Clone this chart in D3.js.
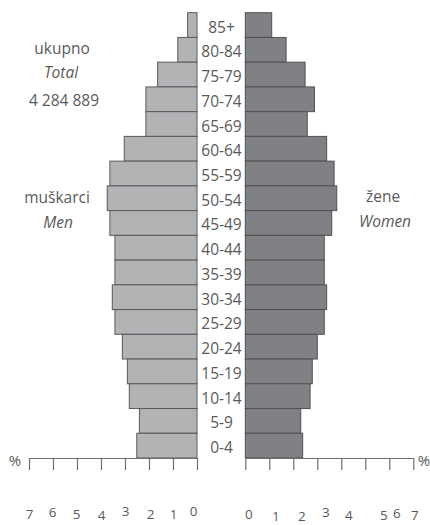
<!DOCTYPE html>
<html>
<head>
<meta charset="utf-8">
<script src="https://cdn.jsdelivr.net/npm/d3@7"></script>
<style>
  html, body { margin: 0; padding: 0; background: #fff; }
  svg { display: block; font-family: "Open Sans", sans-serif; }
</style>
</head>
<body>
<svg id="chart" width="430" height="525"></svg>
<script>
const ageGroups = ["85+","80-84","75-79","70-74","65-69","60-64","55-59","50-54","45-49","40-44","35-39","30-34","25-29","20-24","15-19","10-14","5-9","0-4"];
const menValues = [0.39,0.80,1.64,2.13,2.13,3.03,3.63,3.74,3.63,3.42,3.42,3.53,3.42,3.11,2.90,2.82,2.40,2.51];
const womenValues = [1.10,1.70,2.49,2.88,2.58,3.39,3.70,3.81,3.60,3.29,3.29,3.39,3.29,3.00,2.79,2.70,2.31,2.39];
const tickValues = [0,1,2,3,4,5,6,7];
const totalLabel = ["ukupno","Total","4 284 889"];
const menLabel = ["muškarci","Men"];
const womenLabel = ["žene","Women"];

// small hand-drawn offsets of the scanned tick labels (layout only)
const leftNudge = [[-4,-3],[0,0],[1,0],[0,-3],[0,1],[-1,0],[-1,-2],[0,0]];
const rightNudge = [[3,0],[6,1.5],[8,1.5],[8,-2],[7,1],[18,1],[7,-1],[1,1]];

const svg = d3.select("#chart");
const textColor = "#5a5a5a";

const y = d3.scaleBand().domain(ageGroups).range([12.7, 458]).padding(0);
const xL = d3.scaleLinear().domain([0,7]).range([197, 29]);
const xR = d3.scaleLinear().domain([0,7]).range([245.3, 413.3]);

const menData = ageGroups.map((a,i)=>({age:a, v:menValues[i]}));
const womenData = ageGroups.map((a,i)=>({age:a, v:womenValues[i]}));

svg.append("g").selectAll("rect").data(menData).join("rect")
  .attr("x", d => xL(d.v))
  .attr("y", d => y(d.age))
  .attr("width", d => xL(0) - xL(d.v))
  .attr("height", y.bandwidth())
  .attr("fill", "#b2b3b5")
  .attr("stroke", "#58595b")
  .attr("stroke-width", 1);

svg.append("g").selectAll("rect").data(womenData).join("rect")
  .attr("x", xR(0))
  .attr("y", d => y(d.age))
  .attr("width", d => xR(d.v) - xR(0))
  .attr("height", y.bandwidth())
  .attr("fill", "#808184")
  .attr("stroke", "#505153")
  .attr("stroke-width", 1);

// age labels
svg.append("g").selectAll("text").data(ageGroups).join("text")
  .attr("x", 221.5)
  .attr("y", d => y(d) + y.bandwidth()/2 + 7.5)
  .attr("text-anchor", "middle")
  .attr("font-size", 15.5)
  .attr("fill", textColor)
  .text(d => d);

// axes
function styleAxis(g, nudge) {
  g.select(".domain").attr("stroke", "#6d6e70").attr("stroke-width", 1.2);
  g.selectAll(".tick line").attr("stroke", "#6d6e70").attr("stroke-width", 1.2);
  g.selectAll(".tick text")
    .attr("font-size", 13.5)
    .attr("font-family", "Open Sans, sans-serif")
    .attr("fill", textColor)
    .attr("dy", null)
    .attr("y", 61)
    .attr("transform", (d,i) => `translate(${nudge[i][0]},${nudge[i][1]})`);
}
const axisL = svg.append("g").attr("transform", "translate(0,458)")
  .call(d3.axisBottom(xL).tickValues(tickValues).tickSize(12).tickSizeOuter(0).tickFormat(d3.format("d")));
styleAxis(axisL, leftNudge);
const axisR = svg.append("g").attr("transform", "translate(0,458)")
  .call(d3.axisBottom(xR).tickValues(tickValues).tickSize(12).tickSizeOuter(0).tickFormat(d3.format("d")));
styleAxis(axisR, rightNudge);

// percent signs
svg.append("text").attr("x", 15).attr("y", 466).attr("text-anchor","middle")
  .attr("font-size", 15).attr("fill", textColor).text("%");
svg.append("text").attr("x", 424).attr("y", 466).attr("text-anchor","middle")
  .attr("font-size", 15).attr("fill", textColor).text("%");

// side texts
const tot = svg.append("g").attr("fill", textColor).attr("font-size", 15.5).attr("text-anchor","middle");
tot.append("text").attr("x", 62).attr("y", 54).text(totalLabel[0]);
tot.append("text").attr("x", 61).attr("y", 77.5).attr("font-style","italic").text(totalLabel[1]);
tot.append("text").attr("x", 64).attr("y", 106).text(totalLabel[2]);

const men = svg.append("g").attr("fill", textColor).attr("font-size", 15.5).attr("text-anchor","middle");
men.append("text").attr("x", 57).attr("y", 203).text(menLabel[0]);
men.append("text").attr("x", 58).attr("y", 228).attr("font-style","italic").text(menLabel[1]);

const wom = svg.append("g").attr("fill", textColor).attr("font-size", 15.5).attr("text-anchor","middle");
wom.append("text").attr("x", 383).attr("y", 202).text(womenLabel[0]);
wom.append("text").attr("x", 385).attr("y", 227).attr("font-style","italic").text(womenLabel[1]);
</script>
</body>
</html>
